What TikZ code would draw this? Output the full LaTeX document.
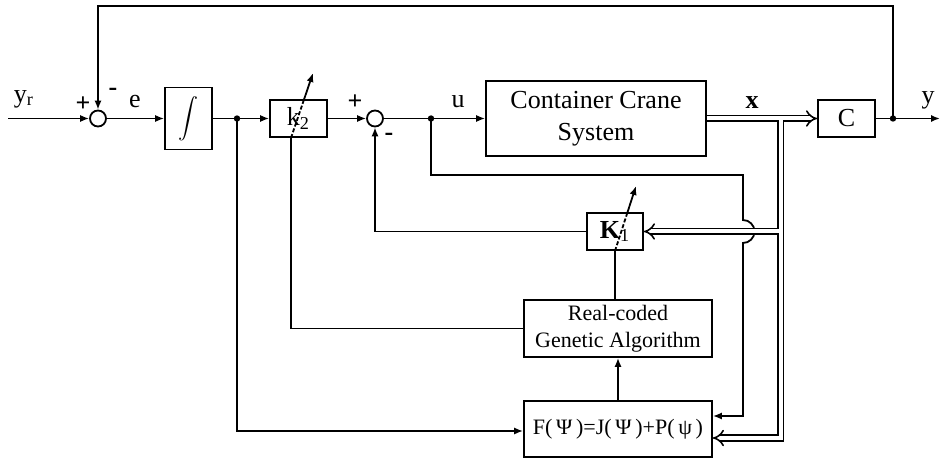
\documentclass[tikz,border=0pt]{standalone}
\usepackage{fontspec}
\setmainfont{Liberation Serif}
\usetikzlibrary{arrows.meta}

\begin{document}
\begin{tikzpicture}[x=0.5pt,y=-0.5pt,line width=0.9pt,
        block/.style={draw,inner sep=0pt,align=center,font=\fontsize{13}{16}\selectfont},
        sumnode/.style={draw,circle,minimum size=8pt,inner sep=0pt},
        sig/.style={-{Latex[length=4.5pt,width=3.6pt]}},
        bus/.style={double,double distance=2pt,line width=0.8pt},
        lbl/.style={inner sep=0pt,font=\fontsize{13}{16}\selectfont},
        sgn/.style={inner sep=0pt,font=\fontsize{13}{16}\selectfont\bfseries}]
        \useasboundingbox (0,0) rectangle (941,459);

        % Boucle principale
        \node[sumnode] (s1) at (98,118.5) {};
        \node[block,minimum width=23.5pt,minimum height=31pt] (integ) at (188.5,118.5) {$\displaystyle\int$};
        \node[block,minimum width=28.5pt,minimum height=18.5pt] (k2) at (298.5,118.5) {k\textsubscript{2}};
        \node[sumnode] (s2) at (375,118.5) {};
        \node[block,minimum width=110pt,minimum height=37.5pt] (plant) at (596,118.5) {Container Crane\\System};
        \node[block,minimum width=28.5pt,minimum height=18.5pt] (C) at (846.5,118.5) {C};

        % Retour d'etat et optimisation
        \node[block,minimum width=28pt,minimum height=18.5pt] (K1) at (615,231.5) {\textbf{K}\textsubscript{1}};
        \node[block,minimum width=94pt,minimum height=28.5pt,font=\fontsize{11}{13.5}\selectfont] (rga) at (618,328.5) {Real-coded\\Genetic Algorithm};
        \node[block,minimum width=94pt,minimum height=28pt,font=\fontsize{11}{13.5}\selectfont] (F) at (618,429) {F(\,Ψ\,)=J(\,Ψ\,)+P(\,ψ\,)};

        \coordinate (in) at (8,118.5);
        \coordinate (out) at (940,118.5);
        \coordinate (d1) at (237,118.5);
        \coordinate (d2) at (431,118.5);
        \coordinate (d3) at (893,118.5);
        \coordinate (fbtop) at (98,6);
        \coordinate (xtap) at (780.5,118.5);
        \coordinate (ubr) at (743,175);
        \coordinate (hopA) at (743,220);
        \coordinate (k2in) at ([xshift=-3.75pt]k2.south);
        \coordinate (k2tip) at (313,73);
        \coordinate (K1tip) at (636,186);

        \draw[sig] (in) -- (s1);
        \draw[sig] (s1) -- (integ);
        \draw[sig] (integ) -- (k2);
        \draw[sig] (k2) -- (s2);
        \draw[sig] (s2) -- (plant);
        \draw[sig] (C) -- (out);
        \draw[sig] (d3) |- (fbtop) -- (s1.north);
        \draw[sig] (K1.west) -| (s2.south);
        \draw[sig] (d1) |- ([yshift=-1pt]F.west);
        \draw (rga.west) -| (k2in);
        \draw (rga.north -| K1.south) -- (K1.south);
        \draw[sig] (F.north) -- (rga.south);
        \draw[sig] (d2) |- (ubr) -- (hopA) arc[start angle=-90,end angle=90,radius=11.5] |- ([yshift=6.5pt]F.east);

        % Vecteur d'etat (ligne double)
        \draw[bus,-{Implies}] (plant) -- (C);
        \draw[bus,-{Implies}] ([yshift=-1pt]xtap) |- ([yshift=-4.5pt]F.east);
        \draw[bus,-{Implies}] ([xshift=-1pt]xtap |- K1.east) -- (K1.east);

        % Gains ajustables
        \path (k2in) -- (k2tip) coordinate[pos=0.58] (k2top);
        \draw[dash pattern=on 2pt off 1pt] (k2in) -- (k2top);
        \draw[sig] (k2top) -- (k2tip);
        \path (K1.south) -- (K1tip) coordinate[pos=0.58] (K1top);
        \draw[dash pattern=on 2pt off 1pt] (K1.south) -- (K1top);
        \draw[sig] (K1top) -- (K1tip);

        \foreach \p in {d1,d2,d3}
            \fill (\p) circle (1.6pt);

        \node[lbl] (lyr) at (24,99) {y\textsubscript{r}};
        \node[sgn] (p1) at (83,104) {+};
        \node[sgn] (m1) at (113,92) {-};
        \node[lbl] (le) at (135,102) {e};
        \node[sgn] (p2) at (355,102) {+};
        \node[sgn] (m2) at (389,137) {-};
        \node[lbl] (lu) at (458,102) {u};
        \node[sgn] (lx) at (752,103) {x};
        \node[lbl] (ly) at (928,100) {y};
    \end{tikzpicture}
\end{document}
